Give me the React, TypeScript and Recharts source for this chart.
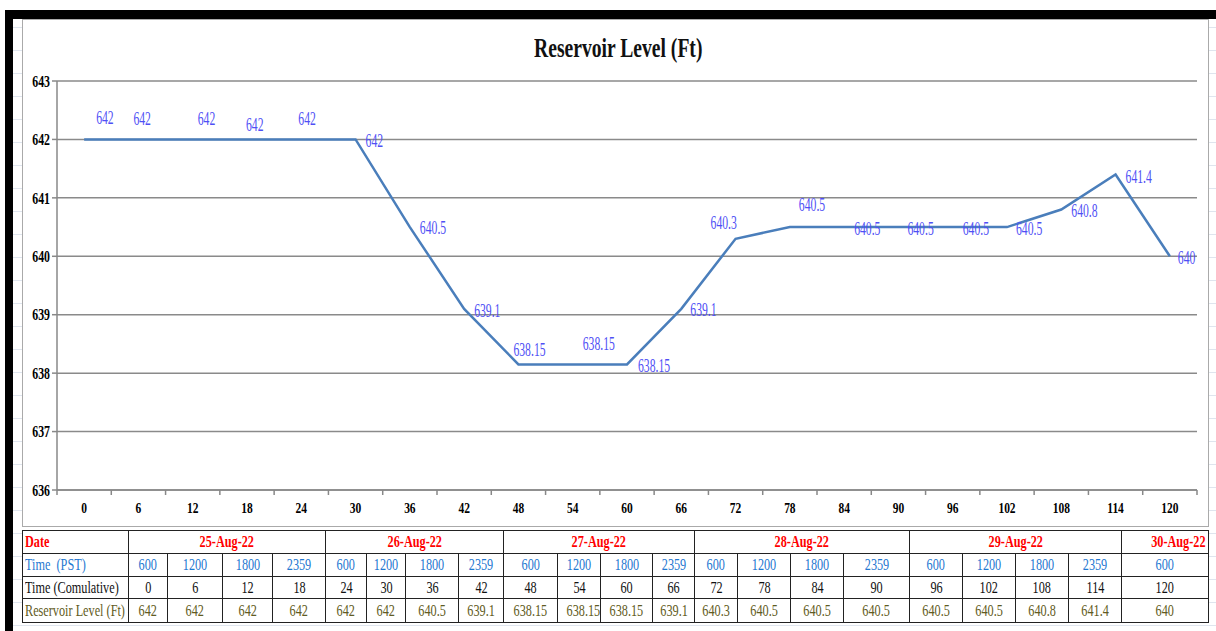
import React from "react";
import { LineChart, Line, XAxis, YAxis, CartesianGrid, LabelList } from "recharts";

// cumulative hours since the first reading
const hours = [0, 6, 12, 18, 24, 30, 36, 42, 48, 54, 60, 66, 72, 78, 84, 90, 96, 102, 108, 114, 120];
// reservoir level (ft) at each reading
const levels = [
  642, 642, 642, 642, 642, 642, 640.5, 639.1, 638.15, 638.15, 638.15, 639.1, 640.3, 640.5, 640.5,
  640.5, 640.5, 640.5, 640.8, 641.4, 640,
];
const levelTicks = [636, 637, 638, 639, 640, 641, 642, 643];

// table rows
const days = ["25-Aug-22", "26-Aug-22", "27-Aug-22", "28-Aug-22", "29-Aug-22", "30-Aug-22"];
const readingsPerDay = [4, 4, 4, 4, 4, 1];
const timesPST = [
  600, 1200, 1800, 2359, 600, 1200, 1800, 2359, 600, 1200, 1800, 2359, 600, 1200, 1800, 2359, 600,
  1200, 1800, 2359, 600,
];

// nudges for the value labels so they don't sit on the line
const labelNudge: [number, number][] = [
  [12, -22], [-5, -21], [5, -21], [-1, -15], [-3, -21], [10, 1], [10, 0], [10, 2], [-5, -15],
  [10, -21], [11, 1], [9, 1], [-25, -16], [9, -23], [10, 1], [9, 1], [10, 1], [9, 1], [10, 1],
  [10, 2], [8, 1],
];

// column widths of the data table (first is the row header)
const colWidths = [106, 39, 55, 50, 53, 41, 39, 53, 45, 54, 43, 52, 42, 43, 53, 53, 66, 53, 53, 53, 53, 87];
const rowHeights = [23, 23, 22, 24];

const data = hours.map((t, i) => ({ t, level: levels[i] }));

// tick marks sit halfway between readings, labels on the readings
const boundaryTicks = [...hours.map((h) => h - 3), hours[hours.length - 1] + 3];
const allXTicks = [...boundaryTicks, ...hours].sort((a, b) => a - b);

const serif = "'Liberation Serif', 'Times New Roman', serif";

function TimeTick(props: any) {
  const { x, y, payload } = props;
  const v = payload.value;
  if (hours.includes(v)) {
    return (
      <text
        transform={`translate(${x},${y + 23}) scale(0.82,1)`}
        textAnchor="middle"
        fontFamily={serif}
        fontWeight="bold"
        fontSize={14}
        fill="#000"
      >
        {v}
      </text>
    );
  }
  return <line x1={x} x2={x} y1={y} y2={y + 5} stroke="#888" strokeWidth={1.5} />;
}

function LevelTick(props: any) {
  const { x, y, payload } = props;
  return (
    <text
      transform={`translate(${x},${y}) scale(0.74,1)`}
      textAnchor="end"
      dominantBaseline="central"
      fontFamily={serif}
      fontWeight="bold"
      fontSize={16}
      fill="#000"
    >
      {payload.value}
    </text>
  );
}

function ValueLabel(props: any) {
  const { x, y, value, index } = props;
  const [dx, dy] = labelNudge[index] ?? [8, 0];
  return (
    <text
      transform={`translate(${x + dx},${y + dy}) scale(0.65,1)`}
      textAnchor="start"
      dominantBaseline="central"
      fontFamily={serif}
      fontSize={18}
      fill="#4f4ff5"
    >
      {String(value)}
    </text>
  );
}

function Cell({
  children,
  color,
  bold,
  align = "center",
  span = 1,
}: {
  children: React.ReactNode;
  color: string;
  bold?: boolean;
  align?: "left" | "center" | "right";
  span?: number;
}) {
  return (
    <td
      colSpan={span}
      style={{
        border: "1.5px solid #222",
        padding: "0 2px",
        textAlign: align,
        color,
        fontWeight: bold ? "bold" : "normal",
        whiteSpace: "nowrap",
        overflow: "visible",
      }}
    >
      <span
        style={{
          display: "inline-block",
          transform: "scaleX(0.72)",
          transformOrigin: align,
        }}
      >
        {children}
      </span>
    </td>
  );
}

function DataTable() {
  const rowStyle = (i: number) => ({ height: rowHeights[i] });
  return (
    <table
      style={{
        position: "absolute",
        left: 22,
        top: 530,
        width: colWidths.reduce((a, b) => a + b, 0),
        borderCollapse: "collapse",
        tableLayout: "fixed",
        fontFamily: serif,
        fontSize: 17,
        lineHeight: "18px",
        background: "#fff",
      }}
    >
      <colgroup>
        {colWidths.map((w, i) => (
          <col key={i} style={{ width: w }} />
        ))}
      </colgroup>
      <tbody>
        <tr style={rowStyle(0)}>
          <Cell color="#ff0000" bold align="left">
            Date
          </Cell>
          {days.map((d, i) => (
            <Cell key={d} color="#ff0000" bold span={readingsPerDay[i]} align={i === days.length - 1 ? "right" : "center"}>
              {d}
            </Cell>
          ))}
        </tr>
        <tr style={rowStyle(1)}>
          <Cell color="#1f78d1" align="left">
            Time&nbsp;&nbsp;(PST)
          </Cell>
          {timesPST.map((t, i) => (
            <Cell key={i} color="#1f78d1">
              {t}
            </Cell>
          ))}
        </tr>
        <tr style={rowStyle(2)}>
          <Cell color="#111" align="left">
            Time (Comulative)
          </Cell>
          {hours.map((h) => (
            <Cell key={h} color="#111">
              {h}
            </Cell>
          ))}
        </tr>
        <tr style={rowStyle(3)}>
          <Cell color="#5f5b22" align="left">
            Reservoir Level (Ft)
          </Cell>
          {levels.map((v, i) => (
            <Cell key={i} color="#5f5b22">
              {String(v)}
            </Cell>
          ))}
        </tr>
      </tbody>
    </table>
  );
}

export default function App() {
  return (
    <div
      style={{
        position: "absolute",
        left: 0,
        top: 0,
        width: 1216,
        height: 631,
        overflow: "hidden",
        background:
          "repeating-linear-gradient(to bottom, #fff 0px, #fff 22px, #dfe5ee 22px, #dfe5ee 23px)",
        backgroundPosition: "0 5px",
      }}
    >
      {/* white strip above the sheet frame */}
      <div style={{ position: "absolute", left: 0, top: 0, width: 1216, height: 10, background: "#fff" }} />
      <div style={{ position: "absolute", left: 0, top: 0, width: 5, height: 631, background: "#fff" }} />
      {/* heavy black frame, top and left */}
      <div style={{ position: "absolute", left: 5, top: 10, width: 1211, height: 9, background: "#000" }} />
      <div style={{ position: "absolute", left: 5, top: 10, width: 8, height: 621, background: "#000" }} />

      {/* chart area */}
      <div
        style={{
          position: "absolute",
          left: 22,
          top: 19,
          width: 1185,
          height: 506,
          background: "#fff",
          border: "1.5px solid #aaa",
        }}
      />

      <div
        style={{
          position: "absolute",
          left: 10,
          top: 34,
          width: 1216,
          textAlign: "center",
          fontFamily: serif,
          fontWeight: "bold",
          fontSize: 28,
          lineHeight: "28px",
          color: "#111",
        }}
      >
        <span style={{ display: "inline-block", transform: "scaleX(0.7)" }}>Reservoir Level (Ft)</span>
      </div>

      <div style={{ position: "absolute", left: 0, top: 0 }}>
        <LineChart width={1216} height={540} data={data} margin={{ top: 81, right: 19, left: 0, bottom: 0 }}>
          <CartesianGrid vertical={false} stroke="#8a8a8a" strokeWidth={1.5} />
          <XAxis
            dataKey="t"
            type="number"
            domain={[-3, 123]}
            ticks={allXTicks}
            interval={0}
            height={50}
            tickSize={0}
            tickMargin={0}
            tick={<TimeTick />}
            axisLine={{ stroke: "#888", strokeWidth: 1.5 }}
          />
          <YAxis
            type="number"
            domain={[636, 643]}
            ticks={levelTicks}
            interval={0}
            width={57}
            tickSize={5}
            tickMargin={2}
            tick={<LevelTick />}
            tickLine={{ stroke: "#888", strokeWidth: 1.5 }}
            axisLine={{ stroke: "#888", strokeWidth: 1.5 }}
          />
          <Line
            type="linear"
            dataKey="level"
            stroke="#4a7ebb"
            strokeWidth={2.5}
            dot={false}
            isAnimationActive={false}
          >
            <LabelList dataKey="level" content={<ValueLabel />} />
          </Line>
        </LineChart>
      </div>

      <DataTable />
    </div>
  );
}
